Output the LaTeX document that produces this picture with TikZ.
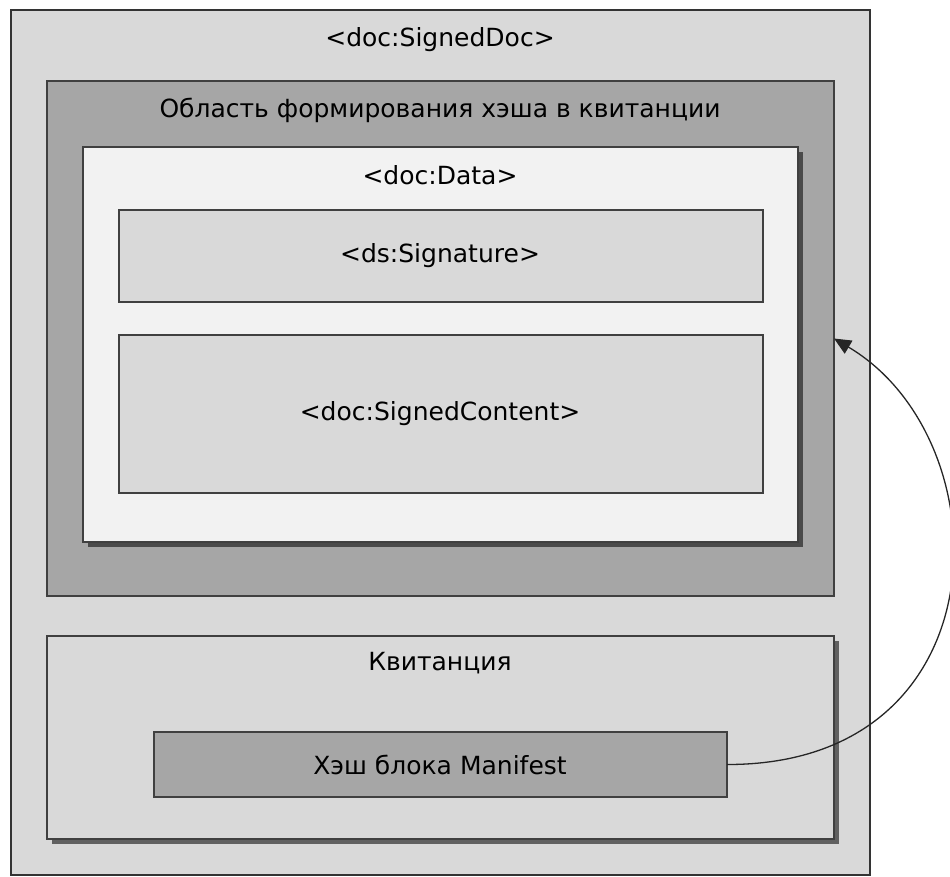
\documentclass[tikz,border=0pt]{standalone}
\usepackage{fontspec}
\setmainfont{DejaVu Sans}
\usetikzlibrary{arrows.meta,shadows}
\definecolor{fillA}{HTML}{D9D9D9}
\definecolor{fillB}{HTML}{A6A6A6}
\definecolor{fillC}{HTML}{F2F2F2}
\definecolor{edgeC}{HTML}{404040}
\tikzset{
  box/.style={draw=edgeC, line width=1.4pt, inner sep=0pt, outer sep=0pt},
  shad/.style={drop shadow={shadow xshift=5pt, shadow yshift=-5pt, fill=black, opacity=0.55}},
  lbl/.style={font=\fontsize{25}{30}\selectfont, inner sep=0pt, text=black},
  link/.style={draw=black!85, line width=1.3pt, -{Triangle[length=17pt,width=15pt]}}
}
\newcommand{\boxat}[6]{% name, x1, y1, x2, y2, style
  \node[box, #6, minimum width={#4-#2}, minimum height={#5-#3}, anchor=north west] (#1) at (#2,#3) {};}
\begin{document}
\begin{tikzpicture}[x=1pt,y=-1pt]
\useasboundingbox (0,0) rectangle (950,877);
\boxat{outer}{11pt}{10}{870pt}{875pt}{fill=fillA, draw=black!80}
\boxat{region}{47pt}{81}{834pt}{596pt}{fill=fillB}
\boxat{data}{83pt}{147}{798pt}{542pt}{fill=fillC, shad}
\boxat{sig}{119pt}{210}{763pt}{302pt}{fill=fillA}
\boxat{content}{119pt}{335}{763pt}{493pt}{fill=fillA}
\boxat{kvit}{47pt}{636}{834pt}{839pt}{fill=fillA, shad}
\boxat{hash}{154pt}{732}{727pt}{797pt}{fill=fillB}
\node[lbl] (tOuter) at (440,40) {<doc:SignedDoc>};
\node[lbl] (tRegion) at (440,110) {Область формирования хэша в квитанции};
\node[lbl] (tData) at (440,175) {<doc:Data>};
\node[lbl] (tSig) at (440,256) {<ds:Signature>};
\node[lbl] (tContent) at (440,414) {<doc:SignedContent>};
\node[lbl] (tKvit) at (440,663) {Квитанция};
\node[lbl] (tHash) at (440,765) {Хэш блока Manifest};
\draw[link] (hash.east) .. controls (1005,765) and (1005,440) .. (region.east);
\end{tikzpicture}
\end{document}
